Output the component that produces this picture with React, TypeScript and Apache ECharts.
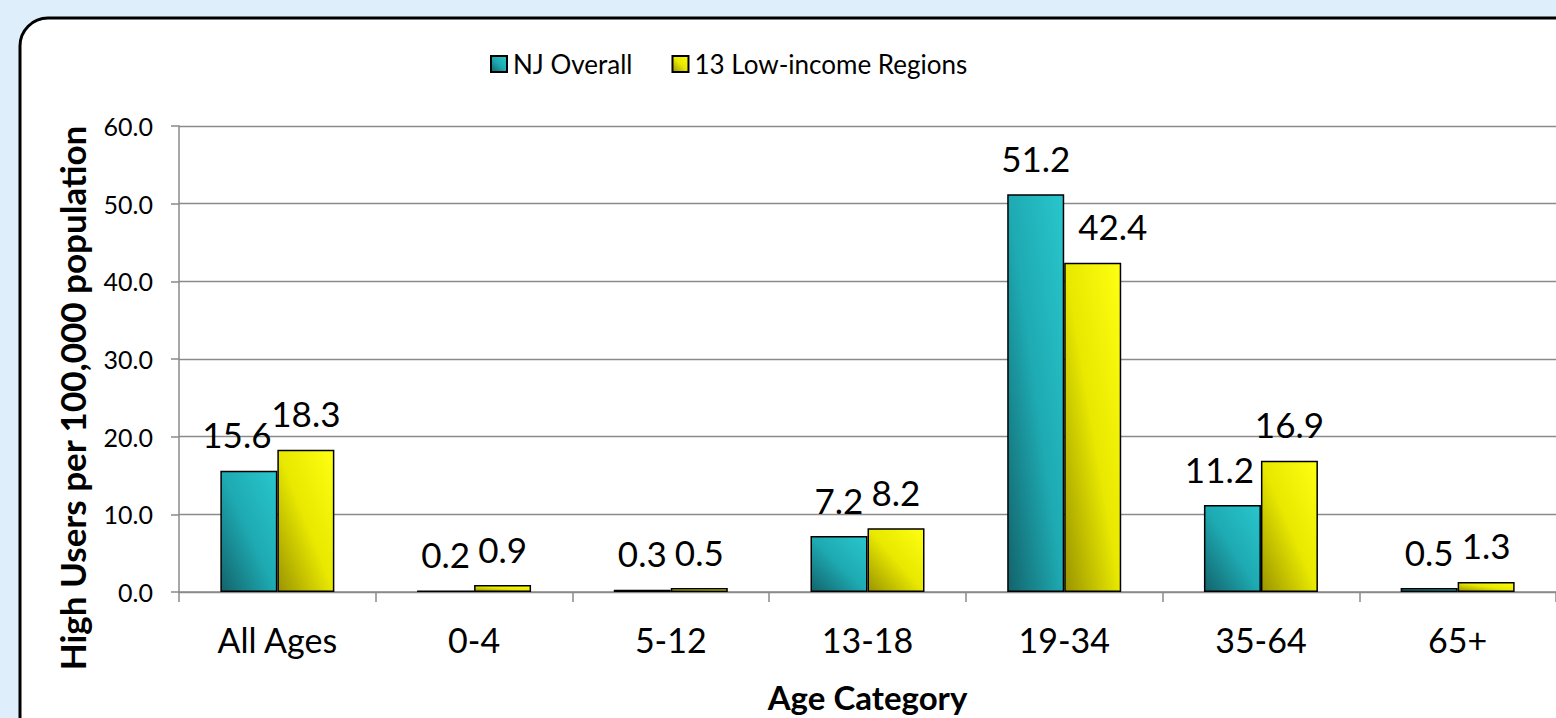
import React, { useEffect, useRef } from "react";
import * as echarts from "echarts";

const categories = ["All Ages", "0-4", "5-12", "13-18", "19-34", "35-64", "65+"];
const seriesNames = ["NJ Overall", "13 Low-income Regions"];
const njOverall = [15.6, 0.2, 0.3, 7.2, 51.2, 11.2, 0.5];
const lowIncome = [18.3, 0.9, 0.5, 8.2, 42.4, 16.9, 1.3];
const yTicks = { min: 0, max: 60, interval: 10 };
const yTitle = "High Users per 100,000 population";
const xTitle = "Age Category";

// horizontal nudges of a few data labels, as in the reference
const njLabelShift: Record<number, number> = { 0: -12, 5: -13 };
const lowLabelShift: Record<number, number> = { 4: 20 };

const FONT = "Lato";

const teal = new echarts.graphic.LinearGradient(0, 1, 1, 0, [
  { offset: 0, color: "#13636b" },
  { offset: 0.5, color: "#1eaab2" },
  { offset: 1, color: "#29c6cd" },
]);
const yellow = new echarts.graphic.LinearGradient(0, 1, 1, 0, [
  { offset: 0, color: "#9a9400" },
  { offset: 0.5, color: "#e8e800" },
  { offset: 1, color: "#ffff12" },
]);

function makeData(values: number[], shift: Record<number, number>) {
  return values.map((v, i) =>
    shift[i] !== undefined ? { value: v, label: { offset: [shift[i], 0] } } : v
  );
}

export default function App() {
  const ref = useRef<HTMLDivElement>(null);
  useEffect(() => {
    document.body.style.margin = "0";
    if (!ref.current) return;
    const chart = echarts.init(ref.current, null, { renderer: "svg" });
    const labelCfg = {
      show: true,
      position: "top" as const,
      distance: 19,
      fontFamily: FONT,
      fontSize: 35,
      color: "#000",
      formatter: (p: any) => Number(p.value).toFixed(1),
    };
    chart.setOption({
      animation: false,
      backgroundColor: "#dfeefb",
      textStyle: { fontFamily: FONT },
      graphic: [
        {
          type: "rect",
          z: -10,
          shape: { x: 20, y: 18, width: 1600, height: 760, r: 28 },
          style: { fill: "#ffffff", stroke: "#000000", lineWidth: 3 },
        },
        {
          type: "text",
          x: 72,
          y: 398,
          rotation: Math.PI / 2,
          style: {
            text: yTitle,
            fontFamily: FONT,
            fontWeight: "bold",
            fontSize: 35,
            fill: "#000",
            align: "center",
            verticalAlign: "middle",
          },
        },
      ],
      legend: {
        top: 46,
        left: 485,
        itemWidth: 16,
        itemHeight: 16,
        itemGap: 39,
        icon: "rect",
        textStyle: { fontFamily: FONT, fontSize: 26, color: "#000", padding: [0, 0, 0, 1] },
        data: seriesNames,
      },
      grid: { left: 179, width: 1379, top: 126, height: 472.5, containLabel: false },
      xAxis: {
        type: "category",
        data: categories,
        name: xTitle,
        nameLocation: "middle",
        nameGap: 88,
        nameTextStyle: { fontFamily: FONT, fontWeight: "bold", fontSize: 33, color: "#000" },
        axisLine: { lineStyle: { color: "#8a8a8a", width: 1.5 } },
        axisTick: { show: true, length: 10, lineStyle: { color: "#8a8a8a", width: 1.5 } },
        axisLabel: { fontFamily: FONT, fontSize: 34, color: "#000", margin: 30 },
      },
      yAxis: {
        type: "value",
        min: yTicks.min,
        max: yTicks.max,
        interval: yTicks.interval,
        axisLine: { show: true, lineStyle: { color: "#8a8a8a", width: 1.5 } },
        axisTick: { show: true, length: 8, lineStyle: { color: "#8a8a8a", width: 1.5 } },
        splitLine: { lineStyle: { color: "#8a8a8a", width: 1.3 } },
        axisLabel: {
          fontFamily: FONT,
          fontSize: 25,
          color: "#000",
          margin: 26,
          formatter: (v: number) => v.toFixed(1),
        },
      },
      series: [
        {
          name: seriesNames[0],
          type: "bar",
          barWidth: 57,
          barGap: "0%",
          itemStyle: { color: teal, borderColor: "#000", borderWidth: 1.5 },
          label: labelCfg,
          data: makeData(njOverall, njLabelShift),
        },
        {
          name: seriesNames[1],
          type: "bar",
          barWidth: 57,
          barGap: "0%",
          itemStyle: { color: yellow, borderColor: "#000", borderWidth: 1.5 },
          label: labelCfg,
          data: makeData(lowIncome, lowLabelShift),
        },
      ],
    });
    return () => chart.dispose();
  }, []);
  return <div ref={ref} style={{ width: 1556, height: 718 }} />;
}
